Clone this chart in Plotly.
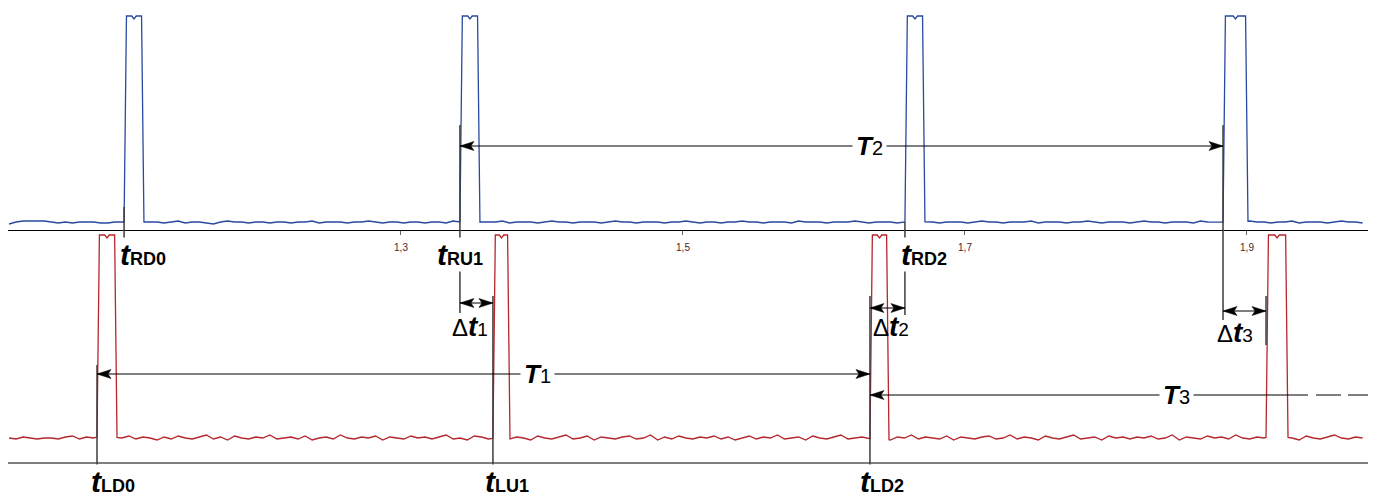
import numpy as np
import plotly.graph_objects as go

# ---------------- data ----------------
T0 = 1.022          # first baseline sample time
STEP = 0.005        # baseline sampling step

blue_base = [6,8,9,9,9,9,8,7,8,7,8,8,8,7,7,8,8,8,7,8,
             8,8,7,8,9,7,8,8,7,6,8,9,8,8,7,8,8,7,8,8,
             7,8,8,9,7,8,8,8,7,8,8,9,8,7,8,8,7,8,8,7,
             8,8,7,9,8,8,7,8,8,8,9,7,8,8,8,7,8,9,8,8,
             7,8,8,8,7,8,9,8,8,7,8,8,8,7,8,8,9,8,7,8,
             8,7,8,8,9,8,8,7,8,8,8,7,9,8,8,8,7,8,8,8,
             9,8,7,8,8,8,7,8,8,9,8,8,7,8,8,8,7,8,9,8,
             8,7,8,8,8,9,7,8,8,8,7,8,8,9,8,7,8,8,8,7,
             8,9,8,8,7,8,8,8,7,9,8,8,8,7,8,8,9,8,8,7,
             8,8,9,7,8,8,8,7,8,9,8,8,7]

red_base = [25,24,26,25,24,25,25,24,26,27,24,26,25,27,24,26,25,27,24,26,
            25,23,26,24,27,25,24,26,28,24,26,23,27,25,24,26,25,28,24,25,
            26,24,27,23,25,26,24,28,25,24,26,25,27,23,26,25,24,27,25,26,
            24,26,28,24,25,23,27,26,24,25,29,24,26,25,23,27,25,24,26,28,
            24,25,27,23,26,25,24,26,27,24,25,28,23,26,24,27,25,24,26,25,
            27,24,26,23,25,27,24,26,25,28,24,25,26,23,27,25,24,26,28,24,
            25,26,24,27,25,23,26,25,28,24,26,25,24,27,23,26,25,24,26,27,
            24,25,28,24,26,25,23,27,25,24,26,28,24,25,26,23,27,25,26,24,
            26,25,27,24,25,28,23,26,25,24,27,25,26,24,28,25,24,26,25,27,
            24,26,25,23,27,25,24,26,28,25,24,26,25]

blue_rise = [1.1036, 1.3418, 1.6574, 1.8830]
blue_fall = [1.1177, 1.3560, 1.6716, 1.9007]
red_rise = [1.0844, 1.3652, 1.6326, 1.9135]
red_fall = [1.0986, 1.3773, 1.6461, 1.9291]
BLUE_TOP = 214
RED_TOP = 228

tick_vals = [1.3, 1.5, 1.7, 1.9]
tick_text = ["1,3", "1,5", "1,7", "1,9"]

# ---------------- helpers ----------------
X0, X1 = 1.02128, 1.98582


def py(px):
    return 1 - px / 500.0


def build(vals, rises, falls, top, notch):
    ts = T0 + STEP * np.arange(len(vals))
    vals = np.array(vals, dtype=float)
    pts = []
    for t, v in zip(ts, vals):
        if any(r - 0.0008 <= t <= f + 0.0008 for r, f in zip(rises, falls)):
            continue
        pts.append((t, v))
    edge = 0.0017
    for r, f in zip(rises, falls):
        m = (r + f) / 2
        pts += [(r, float(np.interp(r, ts, vals))), (r + edge, top),
                (m - 0.0016, top), (m, top - notch), (m + 0.0016, top),
                (f - edge, top), (f, float(np.interp(f, ts, vals)))]
    pts.sort()
    xs, ys = zip(*pts)
    return list(xs), list(ys)


bx, by = build(blue_base, blue_rise, blue_fall, BLUE_TOP, 3)
rx, ry = build(red_base, red_rise, red_fall, RED_TOP, 3)

fig = go.Figure()
fig.add_trace(go.Scatter(x=bx, y=by, mode="lines", line=dict(color="#2a4aa0", width=1.3),
                         xaxis="x", yaxis="y", hoverinfo="skip"))
fig.add_trace(go.Scatter(x=rx, y=ry, mode="lines", line=dict(color="#b5262d", width=1.3),
                         xaxis="x", yaxis="y2", hoverinfo="skip"))

shapes = []
# bottom axis line
shapes.append(dict(type="line", xref="paper", yref="paper", x0=8 / 1377, x1=1368 / 1377,
                   y0=py(463), y1=py(463), line=dict(color="black", width=1.2)))

VCOL = "#3c3c3c"


def vline(t, top_px, bot_px):
    shapes.append(dict(type="line", xref="x", yref="paper", x0=t, x1=t, y0=py(top_px), y1=py(bot_px),
                       line=dict(color=VCOL, width=1.5)))


vline(blue_rise[0], 207, 247)
vline(blue_rise[1], 125, 313)
vline(blue_rise[2], 222, 315)
vline(blue_rise[3], 125, 320)
vline(red_rise[3], 296, 345)
vline(red_rise[0], 365, 475)
vline(red_rise[1], 296, 475)
vline(red_rise[2], 296, 475)

HEAD_L = "M0,0 L14,4.5 L11,0 L14,-4.5 Z"
HEAD_R = "M0,0 L-14,4.5 L-11,0 L-14,-4.5 Z"


def head(t, ypx, path):
    shapes.append(dict(type="path", xref="x", yref="paper", xsizemode="pixel", ysizemode="pixel",
                       xanchor=t, yanchor=py(ypx), path=path, fillcolor="black",
                       line=dict(color="black", width=0.5)))


def hline(t0, t1, ypx, dash="solid"):
    shapes.append(dict(type="line", xref="x", yref="paper", x0=t0, x1=t1, y0=py(ypx), y1=py(ypx),
                       line=dict(color="black", width=1.1, dash=dash)))


def darrow(t0, t1, ypx):
    hline(t0, t1, ypx)
    head(t0, ypx, HEAD_L)
    head(t1, ypx, HEAD_R)


darrow(blue_rise[1], blue_rise[3], 146)   # T2
darrow(red_rise[0], red_rise[2], 374)     # T1
darrow(blue_rise[1], red_rise[1], 303)    # dt1
darrow(red_rise[2], blue_rise[2], 308)    # dt2
darrow(blue_rise[3], red_rise[3], 311)    # dt3
# T3: single head + dashed continuation
hline(red_rise[2], 1.94326, 395)
head(red_rise[2], 395, HEAD_L)
hline(1.94894, X1, 395, dash="25px,7px")

FONT = "Arial, 'Liberation Sans', sans-serif"
ann = []


def tlabel(t, ypx, sub, xshift, anchor="middle"):
    ann.append(dict(x=t, y=py(ypx), xref="x", yref="paper", xanchor="left", yanchor=anchor,
                    xshift=xshift, showarrow=False, bgcolor="white", borderpad=0,
                    text=f"<b><i>t</i></b><b><span style='font-size:18px'>{sub}</span></b>",
                    font=dict(family=FONT, size=30, color="black")))


tlabel(blue_rise[0], 254, "RD0", -5)
tlabel(blue_rise[1], 254, "RU1", -24)
tlabel(blue_rise[2], 254, "RD2", -5)
tlabel(red_rise[0], 499, "LD0", -7, "bottom")
tlabel(red_rise[1], 499, "LU1", -9, "bottom")
tlabel(red_rise[2], 499, "LD2", -11, "bottom")


def dlabel(t, ypx, n, xshift):
    ann.append(dict(x=t, y=py(ypx), xref="x", yref="paper", xanchor="left", yanchor="middle",
                    xshift=xshift, showarrow=False, borderpad=0,
                    text=f"Δ<b><i><span style='font-size:28px'>t</span></i></b><span style='font-size:19px'>{n}</span>",
                    font=dict(family=FONT, size=24, color="black")))


dlabel(blue_rise[1], 326, "1", -9)
dlabel(red_rise[2], 326, "2", 2)
dlabel(blue_rise[3], 332, "3", -7)


def Tlabel(t, ypx, n):
    ann.append(dict(x=t, y=py(ypx), xref="x", yref="paper", xanchor="center", yanchor="middle",
                    showarrow=False, bgcolor="white", borderpad=3,
                    text=f"<b><i>T</i></b><span style='font-size:20px'>{n}</span>",
                    font=dict(family=FONT, size=26, color="black")))


Tlabel(1.39716, 374, "1")
Tlabel(1.63262, 146, "2")
Tlabel(1.84965, 395, "3")

fig.update_layout(
    width=1377, height=500, margin=dict(l=0, r=0, t=0, b=0),
    paper_bgcolor="white", plot_bgcolor="white", showlegend=False,
    shapes=shapes, annotations=ann,
    xaxis=dict(domain=[8 / 1377, 1368 / 1377], range=[X0, X1], anchor="y",
               showline=True, linecolor="black", linewidth=1.2, mirror=False,
               ticks="outside", ticklen=4, tickwidth=1, tickcolor="#666",
               tickvals=tick_vals, ticktext=tick_text, ticklabelstandoff=4,
               tickfont=dict(family=FONT, size=10, color="#4b1c2c"),
               showgrid=False, zeroline=False),
    yaxis=dict(domain=[0.54, 1.0], range=[0, 230], visible=False, showgrid=False, zeroline=False),
    yaxis2=dict(domain=[0.074, 0.54], range=[0, 233], visible=False, anchor="x",
                showgrid=False, zeroline=False),
)

fig.write_html("out.html", config={"displayModeBar": False},
               post_script="document.body.style.margin='0';document.body.style.overflow='hidden';")
